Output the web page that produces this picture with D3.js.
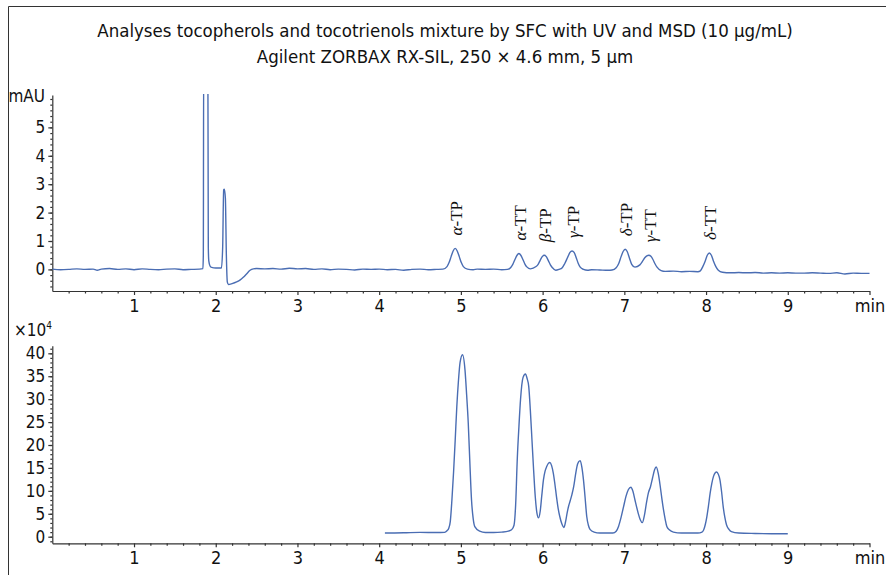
<!DOCTYPE html>
<html><head><meta charset="utf-8">
<script src="https://cdn.jsdelivr.net/npm/d3@7"></script>
<style>
body{margin:0;background:#fff}
svg{display:block}
</style>
</head><body>
<svg id="chart" width="886" height="575"></svg>
<script>
// ---------- data ----------
const titleLines = [
  "Analyses tocopherols and tocotrienols mixture by SFC with UV and MSD (10 µg/mL)",
  "Agilent ZORBAX RX-SIL, 250 × 4.6 mm, 5 µm"
];
const xTickValues = [1,2,3,4,5,6,7,8,9,10];
const xTickLabels = ["1","2","3","4","5","6","7","8","9","min"];
const uvTickValues = [0,1,2,3,4,5];
const msdTickValues = [0,5,10,15,20,25,30,35,40];
const uvUnit = "mAU";
const msdUnitBase = "×10";
const msdUnitExp = "4";

// UV trace (time in min, signal in mAU)
const uvTime = [
 0,0.1,0.2,0.3,0.4,0.5,0.55,0.6,0.7,0.8,0.9,1.0,1.1,1.2,1.3,1.4,1.5,1.6,1.7,1.8,1.843,
 1.848,1.853,1.903,1.909,1.915,1.93,1.95,2.0,2.07,2.085,2.097,2.105,2.118,2.13,2.142,2.155,2.2,2.256,2.3,2.337,2.38,2.42,2.46,
 2.5,2.6,2.7,2.8,2.9,3.0,3.1,3.2,3.3,3.4,3.5,3.6,3.7,3.8,3.9,4.0,4.1,4.2,4.3,4.4,4.5,4.6,4.7,4.78,
 4.83,4.855,4.88,4.905,4.93,4.955,4.98,5.005,5.03,5.08,
 5.15,5.2,5.3,5.4,5.5,5.57,
 5.61,5.635,5.66,5.685,5.71,5.735,5.76,5.785,5.81,5.85,
 5.92,5.945,5.97,5.995,6.02,6.045,6.07,6.095,6.12,6.16,
 6.2,6.24,6.27,6.31,6.335,6.36,6.385,6.41,6.435,6.46,6.5,
 6.55,6.6,6.7,6.8,6.85,
 6.9,6.93,6.96,6.985,7.01,7.035,7.06,7.09,7.13,
 7.19,7.225,7.25,7.275,7.3,7.325,7.35,7.375,7.4,7.45,
 7.5,7.6,7.7,7.8,7.9,7.93,
 7.96,7.99,8.015,8.04,8.065,8.09,8.12,8.15,8.2,
 8.3,8.4,8.5,8.6,8.7,8.8,8.9,9.0,9.1,9.2,9.3,9.4,9.5,9.6,9.7,9.8,9.9,10.0
];
const uvSignal = [
 0.01,-0.01,0.0,0.02,0.0,0.01,-0.03,0.01,0.03,0.0,0.02,-0.01,0.02,0.0,-0.01,0.01,0.02,-0.01,0.0,0.01,0.03,
 0.5,8,8,0.8,0.3,0.12,0.07,0.05,0.05,0.8,2.8,2.82,2.5,0.5,-0.45,-0.53,-0.5,-0.44,-0.37,-0.28,-0.15,-0.03,0.02,
 0.03,0.02,0.03,0.01,0.04,0.02,0.03,0.0,0.02,-0.01,0.01,0.0,-0.02,0.01,0.0,0.01,-0.01,0.0,-0.03,0.0,0.01,-0.01,0.0,0.01,
 0.10,0.24,0.45,0.65,0.74,0.65,0.45,0.24,0.10,0.01,
 -0.01,0.01,0.0,0.01,-0.01,0.0,
 0.07,0.18,0.34,0.49,0.56,0.49,0.34,0.18,0.08,0.02,
 0.10,0.18,0.32,0.45,0.50,0.45,0.31,0.16,0.06,-0.03,
 0.0,0.06,0.2,0.45,0.6,0.65,0.6,0.42,0.22,0.08,0.0,
 -0.03,-0.01,-0.02,-0.03,-0.02,
 0.06,0.2,0.45,0.63,0.71,0.63,0.42,0.18,0.08,
 0.16,0.3,0.41,0.48,0.5,0.46,0.35,0.2,0.08,-0.04,
 -0.07,-0.06,-0.08,-0.07,-0.08,-0.05,
 0.1,0.3,0.5,0.58,0.5,0.3,0.1,-0.03,-0.1,
 -0.12,-0.11,-0.12,-0.11,-0.13,-0.12,-0.13,-0.12,-0.13,-0.13,-0.12,-0.13,-0.14,-0.12,-0.16,-0.13,-0.14,-0.14
];

// MSD trace (time in min, signal in counts ×10^4)
const msdTime = [
 4.07,4.3,4.5,4.7,4.8,4.83,4.85,4.87,4.89,4.91,4.93,4.95,4.97,4.99,5.02,5.05,5.07,5.09,5.11,5.13,5.15,5.17,5.23,
 5.3,5.4,5.5,5.58,5.62,
 5.65,5.67,5.69,5.71,5.73,5.76,5.79,5.81,5.83,5.85,5.87,5.89,5.91,5.93,5.95,
 5.97,5.99,6.01,6.03,6.05,6.07,6.09,6.11,6.13,6.15,6.17,6.19,6.21,6.235,6.26,
 6.28,6.30,6.32,6.34,6.36,6.38,6.40,6.42,6.44,6.46,6.48,6.50,6.52,6.54,6.56,6.58,6.63,6.7,
 6.8,6.86,6.9,6.93,6.96,6.99,7.02,7.05,7.08,7.105,7.13,7.15,7.17,7.195,7.22,
 7.245,7.27,7.295,7.32,7.345,7.37,7.39,7.415,7.44,7.46,7.48,7.50,7.52,7.55,7.6,7.7,
 7.8,7.9,7.95,7.97,7.99,8.01,8.03,8.05,8.07,8.09,8.11,8.13,8.15,8.17,8.19,8.21,8.23,8.25,8.28,8.31,8.4,
 8.6,8.8,9.0
];
const msdSignal = [
 0.8,0.85,0.95,0.9,0.95,1.3,1.8,3.3,8,14,21,28.4,34,38,39.7,36.4,31,24.8,16,8,4,2.2,1.2,
 0.9,0.9,1.0,1.2,1.5,
 2.5,7,17,24,30,34.7,35.5,34.5,32.8,27.5,21,14.5,8.7,5.2,4.1,
 5.5,9,12.4,14.3,15.3,16,16.2,15.5,13.9,11.5,8.7,6.2,4.4,2.8,2.0,
 3.2,5.2,6.8,8.0,9.3,10.9,13.2,15.3,16.3,16.6,15.2,12.4,8.5,4.4,2.5,1.6,1.0,0.8,
 0.8,0.8,1.2,2.3,4.2,6.5,8.8,10.3,10.8,9.9,8.0,6.5,5.1,3.7,3.06,
 4.6,7.3,9.6,10.9,12.8,14.6,15.2,13.8,10.9,8.2,5.8,3.8,2.2,1.5,1.0,0.8,
 0.8,0.8,1.0,1.45,2.6,4.4,6.8,9.5,11.6,13.1,13.9,14.1,13.6,12.4,9.8,6.5,4.2,2.6,1.6,1.1,0.8,
 0.7,0.65,0.65
];

// Peak annotations on the UV trace
const peakGreek  = ["α","α","β","γ","δ","γ","δ"];
const peakSuffix = ["-TP","-TT","-TP","-TP","-TP","-TT","-TT"];
const peakTimes  = [4.93,5.71,6.02,6.36,7.01,7.30,8.04];

// ---------- drawing ----------
const svg = d3.select("#chart");
const axisColor = "#333";
const traceColor = "#4a6db3";
const sansFont = "'Liberation Sans Narrow','Arial Narrow','DejaVu Sans Condensed',sans-serif";
const serifFont = "'Liberation Serif','Times New Roman',serif";

// frame
svg.append("path").attr("d","M8.5,575V6.5H886").attr("fill","none").attr("stroke",axisColor).attr("stroke-width",1);

// title
svg.append("g").selectAll("text").data(titleLines).join("text")
  .attr("x",445).attr("y",(d,i)=>37+i*26)
  .attr("text-anchor","middle")
  .attr("font-family",sansFont).attr("font-size",18.5).attr("fill","#111")
  .text(d=>d);

const x = d3.scaleLinear().domain([0,10]).range([52.3,869.5]);
const yUV = d3.scaleLinear().domain([-0.76,6.14]).range([291,95]);
const yMS = d3.scaleLinear().domain([-1.44,41.66]).range([543.3,345.7]);

function drawXAxis(yPos){
  const g = svg.append("g").attr("transform",`translate(0,${yPos})`);
  g.call(d3.axisBottom(x).tickValues(d3.range(0.2,10,0.2).filter(v=>Math.abs(v-Math.round(v))>1e-6)).tickSize(2.5).tickSizeOuter(0).tickFormat(""));
  const gm = svg.append("g").attr("transform",`translate(0,${yPos})`);
  gm.call(d3.axisBottom(x).tickValues(xTickValues).tickSize(4).tickSizeOuter(0).tickPadding(4)
    .tickFormat((d,i)=>xTickLabels[i]));
  [g,gm].forEach(a=>{
    a.selectAll("path,line").attr("stroke",axisColor).attr("stroke-width",1.2);
    a.selectAll("text").attr("font-family",sansFont).attr("font-size",18).attr("fill","#111");
  });
  g.select(".domain").remove();
}
function drawYAxis(scale, majors, minorStep){
  const [lo,hi] = scale.domain();
  const minors = d3.range(Math.ceil(lo/minorStep)*minorStep, hi, minorStep);
  const g = svg.append("g").attr("transform",`translate(${x(0)},0)`);
  g.call(d3.axisLeft(scale).tickValues(minors).tickSize(2).tickSizeOuter(0).tickFormat(""));
  const gm = svg.append("g").attr("transform",`translate(${x(0)},0)`);
  gm.call(d3.axisLeft(scale).tickValues(majors).tickSize(4).tickSizeOuter(0).tickPadding(3).tickFormat(d3.format("d")));
  [g,gm].forEach(a=>{
    a.selectAll("path,line").attr("stroke",axisColor).attr("stroke-width",1.2);
    a.selectAll("text").attr("font-family",sansFont).attr("font-size",17).attr("fill","#111");
  });
  g.select(".domain").remove();
}

drawYAxis(yUV, uvTickValues, 0.2);
drawXAxis(yUV.range()[0]);
drawYAxis(yMS, msdTickValues, 1);
drawXAxis(yMS.range()[0]);

// unit labels
svg.append("text").attr("x",45).attr("y",102).attr("text-anchor","end")
  .attr("font-family",sansFont).attr("font-size",17).attr("fill","#111").text(uvUnit);
const ul = svg.append("text").attr("x",52).attr("y",336).attr("text-anchor","end")
  .attr("font-family",sansFont).attr("font-size",17).attr("fill","#111");
ul.append("tspan").text(msdUnitBase);
ul.append("tspan").attr("dy",-7).attr("font-size",10).text(msdUnitExp);

// clip for UV
svg.append("defs").append("clipPath").attr("id","clipUV")
  .append("rect").attr("x",x(0)).attr("y",94).attr("width",x(10)-x(0)+2).attr("height",yUV.range()[0]-94);

const uvData = uvTime.map((t,i)=>[t,uvSignal[i]]);
const msData = msdTime.map((t,i)=>[t,msdSignal[i]]);

svg.append("path").datum(uvData)
  .attr("clip-path","url(#clipUV)")
  .attr("fill","none").attr("stroke",traceColor).attr("stroke-width",1.4).attr("stroke-linejoin","round")
  .attr("d",d3.line().x(d=>x(d[0])).y(d=>yUV(d[1])).curve(d3.curveMonotoneX));

svg.append("path").datum(msData)
  .attr("fill","none").attr("stroke",traceColor).attr("stroke-width",1.4).attr("stroke-linejoin","round")
  .attr("d",d3.line().x(d=>x(d[0])).y(d=>yMS(d[1])).curve(d3.curveMonotoneX));

// peak labels
const lab = svg.append("g").selectAll("text").data(peakTimes).join("text")
  .attr("transform",(t)=>{
    const apex = d3.max(uvData.filter(d=>Math.abs(d[0]-t)<0.04), d=>d[1]);
    return `translate(${x(t)+1},${yUV(apex)-13}) rotate(-90)`;
  })
  .attr("dy","0.35em")
  .attr("font-family",serifFont).attr("font-size",17).attr("fill","#111");
lab.append("tspan").attr("font-style","italic").text((d,i)=>peakGreek[i]);
lab.append("tspan").text((d,i)=>peakSuffix[i]);
</script>
</body></html>
